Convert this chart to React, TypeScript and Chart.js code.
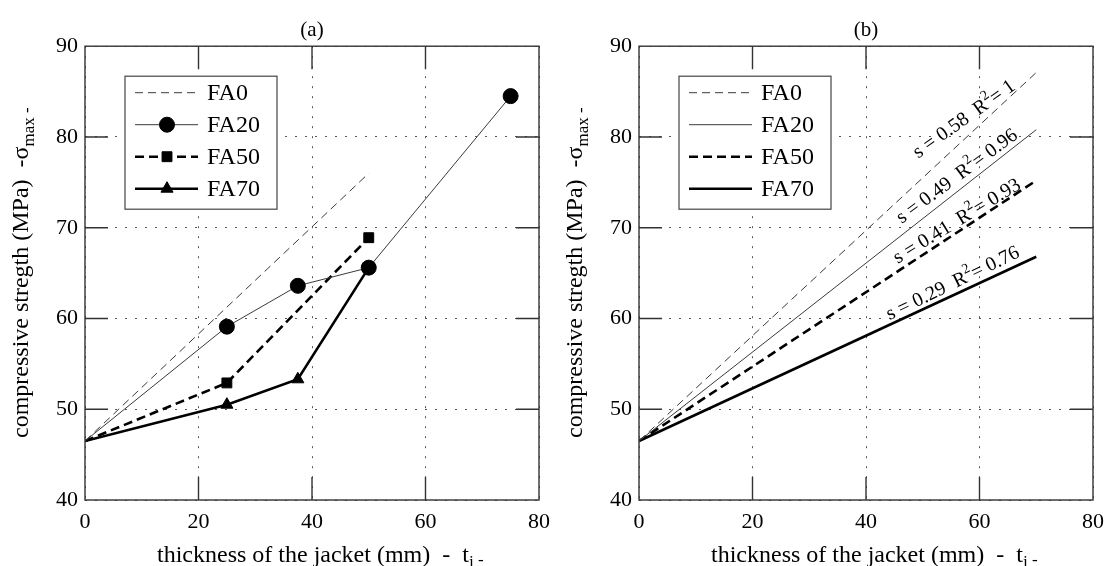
import React, { useEffect, useRef } from "react";
import { Chart, registerables } from "chart.js";
import { drawPoint } from "chart.js/helpers";
Chart.register(...registerables);

const FONT = '"Liberation Serif", "Times New Roman", serif';

// ---- shared ----
const seriesNames = ["FA0", "FA20", "FA50", "FA70"];
const xMin = 0, xMax = 80, xStep = 20;
const yMin = 40, yMax = 90, yStep = 10;

// ---- panel (a): measured strengths ----
const aFA0x = [0, 50];
const aFA0y = [46.5, 76.0];
const aFA20x = [0, 25, 37.5, 50, 75];
const aFA20y = [46.5, 59.1, 63.6, 65.6, 84.5];
const aFA50x = [0, 25, 50];
const aFA50y = [46.5, 52.9, 68.9];
const aFA70x = [0, 25, 37.5, 50];
const aFA70y = [46.5, 50.5, 53.3, 65.6];

// ---- panel (b): linear fits ----
const bX = [0, 70];
const bFA0y = [46.5, 87.1];
const bFA20y = [46.5, 80.8];
const bFA50y = [46.5, 75.2];
const bFA70y = [46.5, 66.8];
const slopes = ["0.58", "0.49", "0.41", "0.29"];
const r2 = ["1", "0.96", "0.93", "0.76"];

// annotation placement (data coords of text start) and text angle (deg)
const labelAtX = [49.2, 46.3, 45.6, 44.2];
const labelAtY = [77.6, 70.4, 66.0, 59.8];
const labelAngle = [35.5, 36.5, 31.5, 26];

const styles = [
  { color: "#3a3a3a", width: 1, dash: [8, 5], pointStyle: "circle", r: 0 },
  { color: "#3a3a3a", width: 1, dash: [], pointStyle: "circle", r: 7.5 },
  { color: "#000000", width: 2.6, dash: [9, 5], pointStyle: "rect", r: 7 },
  { color: "#000000", width: 2.6, dash: [], pointStyle: "triangle", r: 7 },
];

type Seg = { text: string; size: number; dy?: number };
function drawRich(ctx: CanvasRenderingContext2D, segs: Seg[], x: number, y: number) {
  let cx = x;
  ctx.textAlign = "left";
  ctx.textBaseline = "alphabetic";
  for (const s of segs) {
    ctx.font = `${s.size}px ${FONT}`;
    ctx.fillText(s.text, cx, y + (s.dy || 0));
    cx += ctx.measureText(s.text).width;
  }
}

const framePlugin = {
  id: "frame",
  afterDatasetsDraw(chart: any) {
    const { ctx, chartArea } = chart;
    const { left, right, top, bottom } = chartArea;
    const xs = chart.scales.x, ys = chart.scales.y;
    const TL = 23;
    ctx.save();
    ctx.strokeStyle = "#333";
    ctx.lineWidth = 1.4;
    ctx.setLineDash([]);
    ctx.beginPath();
    xs.ticks.forEach((t: any) => {
      if (t.value <= xs.min || t.value >= xs.max) return;
      const px = xs.getPixelForValue(t.value);
      ctx.moveTo(px, bottom); ctx.lineTo(px, bottom - TL);
      ctx.moveTo(px, top); ctx.lineTo(px, top + TL);
    });
    ys.ticks.forEach((t: any) => {
      if (t.value <= ys.min || t.value >= ys.max) return;
      const py = ys.getPixelForValue(t.value);
      ctx.moveTo(left, py); ctx.lineTo(left + TL, py);
      ctx.moveTo(right, py); ctx.lineTo(right - TL, py);
    });
    ctx.stroke();
    ctx.strokeRect(left, top, right - left, bottom - top);

    // legend box
    const showMarkers = chart.options.plugins.customLegend?.markers;
    const bx = left + 40, by = top + 30, bw = 152, bh = 133;
    ctx.fillStyle = "#fff";
    ctx.fillRect(bx, by, bw, bh);
    ctx.strokeStyle = "#444";
    ctx.lineWidth = 1.2;
    ctx.strokeRect(bx, by, bw, bh);
    chart.data.datasets.forEach((ds: any, i: number) => {
      const cy = by + 16.5 + 32 * i;
      ctx.setLineDash(ds.borderDash || []);
      ctx.strokeStyle = ds.borderColor;
      ctx.lineWidth = ds.borderWidth;
      ctx.beginPath();
      ctx.moveTo(bx + 10, cy);
      ctx.lineTo(bx + 73, cy);
      ctx.stroke();
      ctx.setLineDash([]);
      if (showMarkers && styles[i].r > 0) {
        ctx.fillStyle = "#000";
        ctx.strokeStyle = "#000";
        ctx.lineWidth = 1;
        drawPoint(ctx, { pointStyle: styles[i].pointStyle as any, radius: styles[i].r, rotation: 0, borderWidth: 1 } as any, bx + 42, cy);
      }
      ctx.fillStyle = "#000";
      ctx.font = `24px ${FONT}`;
      ctx.textAlign = "left";
      ctx.textBaseline = "middle";
      ctx.fillText(ds.label, bx + 82, cy + 1);
    });

    // annotations (panel b)
    const ann = chart.options.plugins.customLegend?.annotations;
    if (ann) {
      ctx.fillStyle = "#000";
      chart.data.datasets.forEach((_ds: any, i: number) => {
        ctx.save();
        ctx.translate(xs.getPixelForValue(labelAtX[i]), ys.getPixelForValue(labelAtY[i]));
        ctx.rotate((-labelAngle[i] * Math.PI) / 180);
        drawRich(ctx, [
          { text: `s = ${slopes[i]}  R`, size: 20 },
          { text: "2", size: 14, dy: -9 },
          { text: `= ${r2[i]}`, size: 20 },
        ], 0, 0);
        ctx.restore();
      });
    }

    // axis titles
    ctx.fillStyle = "#000";
    drawRich(ctx, [
      { text: "thickness of the jacket (mm)  -  t", size: 24 },
      { text: "j", size: 17, dy: 5 },
      { text: " -", size: 17, dy: 3 },
    ], left + 72, 562);
    ctx.save();
    ctx.translate(28, 438);
    ctx.rotate(-Math.PI / 2);
    drawRich(ctx, [
      { text: "compressive stregth (MPa)  -σ", size: 24 },
      { text: "max", size: 17, dy: 6 },
      { text: " -", size: 17, dy: 4 },
    ], 0, 0);
    ctx.restore();
    ctx.restore();
  },
};

function makeOptions(title: string, padRight: number, markers: boolean, annotations: boolean): any {
  const tickFont = { family: FONT, size: 22 };
  return {
    animation: false,
    responsive: false,
    devicePixelRatio: 1,
    layout: { padding: { left: 0, right: padRight, top: 0, bottom: 0 } },
    elements: { line: { tension: 0 } },
    plugins: {
      legend: { display: false },
      tooltip: { enabled: false },
      customLegend: { markers, annotations },
      title: {
        display: true,
        text: title,
        fullSize: false,
        color: "#000",
        font: { family: FONT, size: 21, weight: "normal" },
        padding: { top: 18, bottom: 3 },
      },
    },
    scales: {
      x: {
        type: "linear",
        min: xMin,
        max: xMax,
        ticks: { stepSize: xStep, font: tickFont, color: "#000", padding: 9, maxRotation: 0 },
        grid: { color: "#555", lineWidth: 1, drawTicks: false },
        border: { display: false, dash: [2, 8] },
        afterFit: (s: any) => { s.height = 66; s.paddingLeft = 0; s.paddingRight = 0; },
      },
      y: {
        type: "linear",
        min: yMin,
        max: yMax,
        ticks: { stepSize: yStep, font: tickFont, color: "#000", padding: 7 },
        grid: { color: "#555", lineWidth: 1, drawTicks: false },
        border: { display: false, dash: [2, 8] },
        afterFit: (s: any) => { s.width = 85; s.paddingTop = 0; s.paddingBottom = 0; },
      },
    },
  };
}

function ds(i: number, xs: number[], ys: number[], markers: boolean) {
  const st = styles[i];
  return {
    label: seriesNames[i],
    data: xs.map((x, k) => ({ x, y: ys[k] })),
    borderColor: st.color,
    borderWidth: st.width,
    borderDash: st.dash,
    backgroundColor: "#000",
    pointStyle: st.pointStyle,
    pointRadius: xs.map((x) => (markers && x > 0 ? st.r : 0)),
    pointBackgroundColor: "#000",
    pointBorderColor: "#000",
    pointBorderWidth: 1,
    fill: false,
  };
}

function Panel({ which, left, width }: { which: "a" | "b"; left: number; width: number }) {
  const ref = useRef<HTMLCanvasElement>(null);
  useEffect(() => {
    if (!ref.current) return;
    const datasets =
      which === "a"
        ? [
            ds(0, aFA0x, aFA0y, false),
            ds(1, aFA20x, aFA20y, true),
            ds(2, aFA50x, aFA50y, true),
            ds(3, aFA70x, aFA70y, true),
          ]
        : [
            ds(0, bX, bFA0y, false),
            ds(1, bX, bFA20y, false),
            ds(2, bX, bFA50y, false),
            ds(3, bX, bFA70y, false),
          ];
    const chart = new Chart(ref.current, {
      type: "line",
      data: { datasets } as any,
      options: makeOptions(which === "a" ? "(a)" : "(b)", width - 539, which === "a", which === "b"),
      plugins: [framePlugin],
    });
    return () => chart.destroy();
  }, [which, width]);
  return (
    <canvas
      ref={ref}
      width={width}
      height={566}
      style={{ position: "absolute", left, top: 0, width, height: 566 }}
    />
  );
}

export default function App() {
  return (
    <div style={{ position: "fixed", left: 0, top: 0, width: 1107, height: 566, background: "#fff", overflow: "hidden" }}>
      <Panel which="a" left={0} width={554} />
      <Panel which="b" left={554} width={553} />
    </div>
  );
}
